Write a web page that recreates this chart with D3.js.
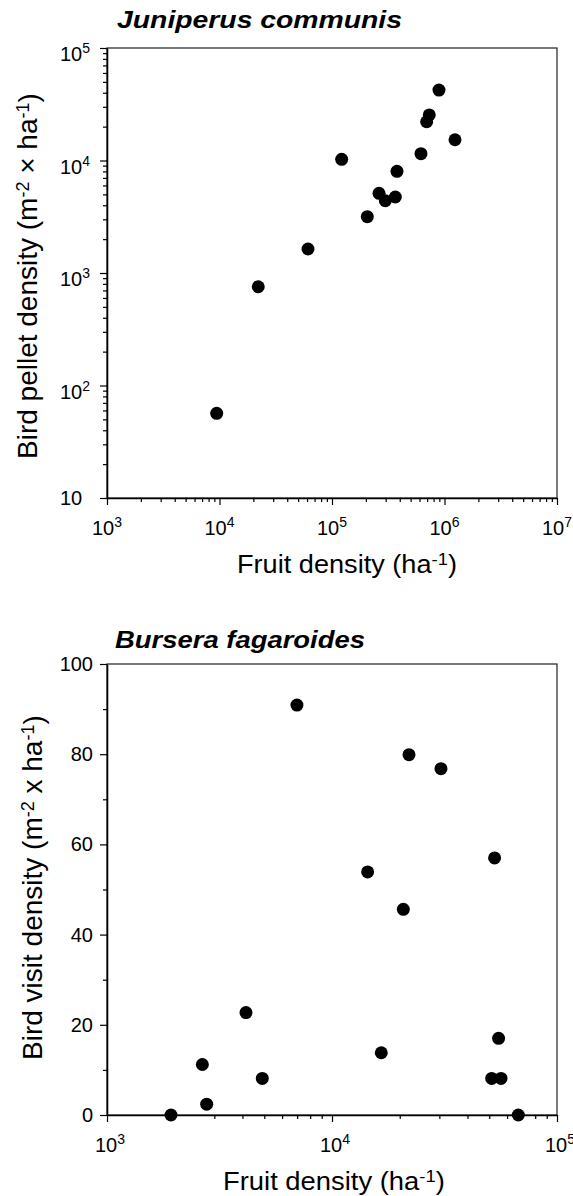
<!DOCTYPE html>
<html>
<head>
<meta charset="utf-8">
<script src="https://cdn.jsdelivr.net/npm/d3@7"></script>
<style>
  body { margin: 0; background: #fff; }
  svg { display: block; }
  text { font-family: "Liberation Sans", Arial, sans-serif; fill: #000; }
</style>
</head>
<body>
<script>
// Juniperus communis: fruit density (ha-1) vs bird pellet density
const junFruit  = [9440, 22100, 61200, 121900, 206000, 261800, 297700, 365400, 378000, 618000, 694000, 732000, 893000, 1240000];
const junPellet = [56.6, 755, 1635, 10250, 3170, 5110, 4390, 4740, 8020, 11500, 22100, 25400, 42300, 15300];
const junXTicks = [1e3, 1e4, 1e5, 1e6, 1e7];
const junYTicks = [10, 1e2, 1e3, 1e4, 1e5];

// Bursera fagaroides: fruit density (ha-1) vs bird visit density
const burFruit = [1925, 2653, 2773, 4147, 4900, 6985, 14400, 16560, 20750, 21990, 30500, 51250, 52800, 55000, 56400, 67300];
const burVisit = [0, 11.2, 2.4, 22.7, 8.1, 90.9, 53.9, 13.8, 45.6, 79.9, 76.8, 8.1, 57.0, 17.0, 8.1, 0];
const burXTicks = [1e3, 1e4, 1e5];
const burYTicks = [0, 20, 40, 60, 80, 100];
const burYMinor = [10, 30, 50, 70, 90];

const W = 573, H = 1196;
const svg = d3.select("body").append("svg").attr("width", W).attr("height", H);

// adds "10" + superscript exponent to a text selection
function powLabel(t, d) {
  const e = Math.round(Math.log10(d));
  t.append("tspan").text("10");
  if (e !== 1) t.append("tspan").attr("dy", -8).attr("font-size", 14).text(e);
}

// text with superscripts: parts = [[str, isSup], ...]
function richText(t, parts, supSize) {
  let up = false;
  parts.forEach(function(p) {
    const ts = t.append("tspan").text(p[0]);
    if (p[1] && !up) { ts.attr("dy", "-0.45em").attr("font-size", supSize); up = true; }
    else if (p[1]) { ts.attr("font-size", supSize); }
    else if (up) { ts.attr("dy", "0.3em"); up = false; }
  });
}

function frame(x, y) {
  svg.append("rect")
    .attr("x", x.range()[0]).attr("y", y.range()[1])
    .attr("width", x.range()[1] - x.range()[0])
    .attr("height", y.range()[0] - y.range()[1])
    .attr("fill", "none").attr("stroke", "#222").attr("stroke-width", 1.2);
}

function styleAxis(g) {
  g.selectAll(".domain").attr("stroke", "#000").attr("stroke-width", 1.6);
  g.selectAll(".tick line").attr("stroke", "#000").attr("stroke-width", 1.2);
}

// ---------- top panel ----------
const x1 = d3.scaleLog().domain([1e3, 1e7]).range([107, 557]);
const y1 = d3.scaleLog().domain([10, 1e5]).range([498, 48]);
frame(x1, y1);

const x1Minor = x1.ticks().filter(d => !junXTicks.includes(d));
const y1Minor = y1.ticks().filter(d => !junYTicks.includes(d));

svg.append("g").attr("transform", "translate(0,498)")
  .call(d3.axisBottom(x1).tickValues(x1Minor).tickSize(4).tickFormat("").tickSizeOuter(0))
  .call(g => g.select(".domain").remove()).call(styleAxis);
svg.append("g").attr("transform", "translate(0,498)")
  .call(d3.axisBottom(x1).tickValues(junXTicks).tickSize(7).tickFormat("").tickSizeOuter(0))
  .call(styleAxis);
svg.append("g").attr("transform", "translate(107,0)")
  .call(d3.axisLeft(y1).tickValues(y1Minor).tickSize(4).tickFormat("").tickSizeOuter(0))
  .call(g => g.select(".domain").remove()).call(styleAxis);
svg.append("g").attr("transform", "translate(107,0)")
  .call(d3.axisLeft(y1).tickValues(junYTicks).tickSize(7).tickFormat("").tickSizeOuter(0))
  .call(styleAxis);

svg.selectAll("text.x1t").data(junXTicks).join("text")
  .attr("class", "x1t")
  .attr("x", d => x1(d)).attr("y", 535)
  .attr("text-anchor", "middle").attr("font-size", 20)
  .each(function(d) { powLabel(d3.select(this), d); });

svg.selectAll("text.y1t").data(junYTicks).join("text")
  .attr("class", "y1t")
  .attr("x", 60).attr("y", d => y1(d) + (d === 10 ? 7 : 13))
  .attr("font-size", 20)
  .each(function(d) { powLabel(d3.select(this), d); });

svg.selectAll("circle.jun").data(junFruit).join("circle")
  .attr("class", "jun")
  .attr("cx", d => x1(d))
  .attr("cy", (d, i) => y1(junPellet[i]))
  .attr("r", 6.5).attr("fill", "#000");

svg.append("text").attr("x", 117).attr("y", 28)
  .attr("font-size", 23).attr("font-weight", "bold").attr("font-style", "italic")
  .attr("textLength", 285).attr("lengthAdjust", "spacingAndGlyphs")
  .text("Juniperus communis");

svg.append("text").attr("x", 237).attr("y", 573)
  .attr("font-size", 25).attr("textLength", 220).attr("lengthAdjust", "spacingAndGlyphs")
  .call(t => richText(t, [["Fruit density (ha", false], ["-1", true], [")", false]], 17));

svg.append("text").attr("transform", "translate(37,459) rotate(-90)")
  .attr("font-size", 28)
  .call(t => richText(t, [["Bird pellet density (m", false], ["-2", true], [" \u00d7 ha", false], ["-1", true], [")", false]], 18));

// ---------- bottom panel ----------
const x2 = d3.scaleLog().domain([1e3, 1e5]).range([107, 557]);
const y2 = d3.scaleLinear().domain([0, 100]).range([1115, 664]);
frame(x2, y2);

const x2Minor = x2.ticks().filter(d => !burXTicks.includes(d));

svg.append("g").attr("transform", "translate(0,1115)")
  .call(d3.axisBottom(x2).tickValues(x2Minor).tickSize(4).tickFormat("").tickSizeOuter(0))
  .call(g => g.select(".domain").remove()).call(styleAxis);
svg.append("g").attr("transform", "translate(0,1115)")
  .call(d3.axisBottom(x2).tickValues(burXTicks).tickSize(7).tickFormat("").tickSizeOuter(0))
  .call(styleAxis);
svg.append("g").attr("transform", "translate(107,0)")
  .call(d3.axisLeft(y2).tickValues(burYMinor).tickSize(4).tickFormat("").tickSizeOuter(0))
  .call(g => g.select(".domain").remove()).call(styleAxis);
svg.append("g").attr("transform", "translate(107,0)")
  .call(d3.axisLeft(y2).tickValues(burYTicks).tickSize(7).tickFormat("").tickSizeOuter(0))
  .call(styleAxis);

svg.selectAll("text.x2t").data(burXTicks).join("text")
  .attr("class", "x2t")
  .attr("x", d => x2(d) + 3).attr("y", 1152)
  .attr("text-anchor", "middle").attr("font-size", 20)
  .each(function(d) { powLabel(d3.select(this), d); });

svg.selectAll("text.y2t").data(burYTicks).join("text")
  .attr("class", "y2t")
  .attr("x", 93).attr("y", d => y2(d) + 7)
  .attr("text-anchor", "end").attr("font-size", 20)
  .text(d => d);

svg.selectAll("circle.bur").data(burFruit).join("circle")
  .attr("class", "bur")
  .attr("cx", d => x2(d))
  .attr("cy", (d, i) => y2(burVisit[i]))
  .attr("r", 6.5).attr("fill", "#000");

svg.append("text").attr("x", 115).attr("y", 648)
  .attr("font-size", 23).attr("font-weight", "bold").attr("font-style", "italic")
  .attr("textLength", 250).attr("lengthAdjust", "spacingAndGlyphs")
  .text("Bursera fagaroides");

svg.append("text").attr("x", 223).attr("y", 1190)
  .attr("font-size", 25).attr("textLength", 222).attr("lengthAdjust", "spacingAndGlyphs")
  .call(t => richText(t, [["Fruit density (ha", false], ["-1", true], [")", false]], 17));

svg.append("text").attr("transform", "translate(42,1060) rotate(-90)")
  .attr("font-size", 28)
  .call(t => richText(t, [["Bird visit density (m", false], ["-2", true], [" x ha", false], ["-1", true], [")", false]], 18));
</script>
</body>
</html>
